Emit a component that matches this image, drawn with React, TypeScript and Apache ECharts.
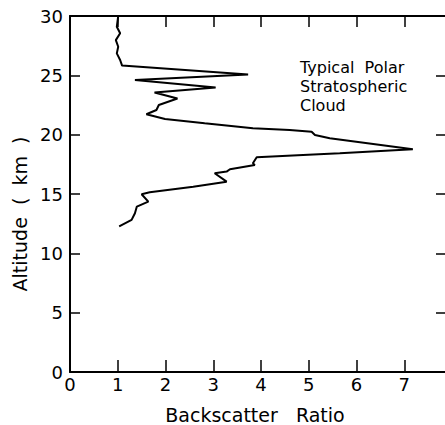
import React, { useEffect, useRef } from "react";
import * as echarts from "echarts";

// Backscatter ratio profile (x = backscatter ratio, y = altitude km), top to bottom
const backscatter = [
  1.01, 0.98, 1.05, 0.96, 1.01, 0.98, 1.05, 1.08, 1.09,
  3.73, 1.36, 3.05, 1.77, 2.25, 1.86, 1.81, 1.6, 1.99, 2.82, 3.83, 4.6, 5.06, 5.13, 5.44, 6.35, 7.18,
  5.65, 4.88, 3.91, 3.83, 3.87, 3.35, 3.28, 3.03, 3.28, 2.58, 1.67, 1.5, 1.64, 1.4, 1.36, 1.29, 1.03,
];
const altitude = [
  30.0, 29.09, 28.54, 27.97, 27.41, 26.85, 26.29, 25.95, 25.82,
  25.08, 24.6, 23.97, 23.56, 23.05, 22.5, 22.08, 21.72, 21.32, 20.96, 20.54, 20.4, 20.25, 19.97, 19.7, 19.22, 18.78,
  18.43, 18.29, 18.1, 17.59, 17.45, 17.09, 16.89, 16.75, 16.04, 15.62, 15.15, 14.98, 14.36, 13.94, 13.38, 12.82, 12.28,
];
const xRange = [0, 8];
const yRange = [0, 30];
const xTitle = "Backscatter   Ratio";
const yTitle = "Altitude  (  km  )";
const annotationLines = ["Typical  Polar", "Stratospheric", "Cloud"];

const FONT = "DejaVu Sans";

export default function App() {
  const ref = useRef<HTMLDivElement>(null);
  useEffect(() => {
    if (!ref.current) return;
    const chart = echarts.init(ref.current, null, { renderer: "svg" });
    const data = backscatter.map((v, i) => [v, altitude[i]]);
    const axisLine = { onZero: false, lineStyle: { color: "#000", width: 2 } };
    chart.setOption({
      animation: false,
      backgroundColor: "#fff",
      grid: { left: 70, top: 16, right: 18, bottom: 53, containLabel: false, outerBoundsMode: "none" },
      xAxis: [
        {
          type: "value",
          min: xRange[0],
          max: xRange[1],
          interval: 1,
          position: "bottom",
          name: xTitle,
          nameLocation: "middle",
          nameGap: 33,
          nameTextStyle: { fontFamily: FONT, fontSize: 19, color: "#000", padding: [0, 12, 0, 0] },
          axisLine,
          axisTick: { inside: true, length: 12, lineStyle: { color: "#000", width: 1.5 } },
          axisLabel: { margin: 3, fontFamily: FONT, fontSize: 18, color: "#000" },
          splitLine: { show: false },
        },
        {
          type: "value",
          min: xRange[0],
          max: xRange[1],
          interval: 1,
          position: "top",
          axisLine,
          axisTick: { show: true, inside: true, length: 11, lineStyle: { color: "#000", width: 1.5 } },
          axisLabel: { show: false },
          splitLine: { show: false },
        },
      ],
      yAxis: [
        {
          type: "value",
          min: yRange[0],
          max: yRange[1],
          interval: 5,
          position: "left",
          name: yTitle,
          nameLocation: "middle",
          nameGap: 38,
          nameRotate: 90,
          nameTextStyle: { fontFamily: FONT, fontSize: 19, color: "#000", padding: [0, 40, 0, 0] },
          axisLine,
          axisTick: { inside: true, length: 10, lineStyle: { color: "#000", width: 1.5 } },
          axisLabel: { margin: 7, fontFamily: FONT, fontSize: 18, color: "#000" },
          splitLine: { show: false },
        },
        {
          type: "value",
          min: yRange[0],
          max: yRange[1],
          interval: 5,
          position: "right",
          axisLine,
          axisTick: { show: true, inside: true, length: 16, lineStyle: { color: "#000", width: 1.5 } },
          axisLabel: { show: false },
          splitLine: { show: false },
        },
      ],
      series: [
        {
          type: "line",
          data,
          showSymbol: false,
          smooth: false,
          lineStyle: { color: "#000", width: 2 },
          xAxisIndex: 0,
          yAxisIndex: 0,
        },
      ],
      graphic: [
        {
          type: "text",
          left: 300,
          top: 58,
          style: {
            text: annotationLines.join("\n"),
            fontFamily: FONT,
            fontSize: 16,
            lineHeight: 19,
            fill: "#000",
          },
        },
      ],
    });
    return () => chart.dispose();
  }, []);
  return (
    <div
      style={{ position: "fixed", left: 0, top: 0, width: 445, height: 425, overflow: "hidden", background: "#fff" }}
    >
      <div ref={ref} style={{ position: "absolute", left: 0, top: 0, width: 470, height: 425 }} />
    </div>
  );
}
